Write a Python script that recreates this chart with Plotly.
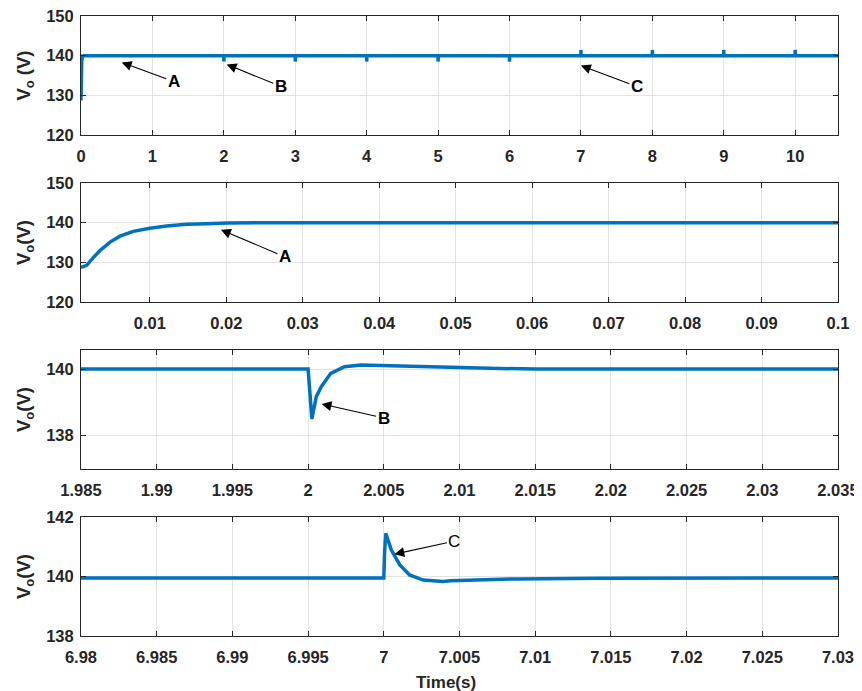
import plotly.graph_objects as go

# ---------------- data ----------------
# Panel 1: overview 0..10.6 s
p1_t = [0.0, 0.0005, 0.001, 0.003, 0.005, 0.01, 0.02, 0.05,
        2.0, 2.0002, 2.001, 2.003, 2.01,
        3.0, 3.0002, 3.001, 3.003, 3.01,
        4.0, 4.0002, 4.001, 4.003, 4.01,
        5.0, 5.0002, 5.001, 5.003, 5.01,
        6.0, 6.0002, 6.001, 6.003, 6.01,
        7.0, 7.0002, 7.001, 7.003, 7.01,
        8.0, 8.0002, 8.001, 8.003, 8.01,
        9.0, 9.0002, 9.001, 9.003, 9.01,
        10.0, 10.0002, 10.001, 10.003, 10.01,
        10.6]
p1_v = [128.7, 128.7, 128.7, 133.0, 135.1, 138.6, 139.9, 140.0,
        140.0, 138.5, 139.4, 140.1, 140.0,
        140.0, 138.5, 139.4, 140.1, 140.0,
        140.0, 138.5, 139.4, 140.1, 140.0,
        140.0, 138.5, 139.4, 140.1, 140.0,
        140.0, 138.5, 139.4, 140.1, 140.0,
        139.95, 141.45, 140.4, 139.85, 139.95,
        139.95, 141.45, 140.4, 139.85, 139.95,
        139.95, 141.45, 140.4, 139.85, 139.95,
        139.95, 141.45, 140.4, 139.85, 139.95,
        139.95]

# Panel 2: start-up 0.001..0.1 s
p2_t = [0.001, 0.00174, 0.00261, 0.00349, 0.0048, 0.0061, 0.00784, 0.010,
        0.0122, 0.0148, 0.0174, 0.0201, 0.025, 0.03, 0.05, 0.1]
p2_v = [128.7, 129.25, 131.2, 133.0, 135.1, 136.6, 137.8, 138.6,
        139.15, 139.57, 139.7, 139.9, 139.97, 140.0, 140.0, 140.0]

# Panel 3: load step B around t = 2 s
p3_t = [1.985, 2.0, 2.0001, 2.00025, 2.00054, 2.00087, 2.0015, 2.0024,
        2.0035, 2.005, 2.0083, 2.012, 2.015, 2.035]
p3_v = [140.0, 140.0, 139.4, 138.5, 139.17, 139.47, 139.87, 140.07,
        140.12, 140.1, 140.06, 140.02, 140.0, 140.0]

# Panel 4: load step C around t = 7 s
p4_t = [6.98, 7.0, 7.00005, 7.00013, 7.0005, 7.00106, 7.0017, 7.0026,
        7.0039, 7.0044, 7.0088, 7.0143, 7.03]
p4_v = [139.95, 139.95, 140.8, 141.45, 140.89, 140.39, 140.05, 139.88,
        139.83, 139.86, 139.92, 139.94, 139.95]

# ticks
p1_xticks = [0, 1, 2, 3, 4, 5, 6, 7, 8, 9, 10]
p1_yticks = [120, 130, 140, 150]
p2_xticks = [0.01, 0.02, 0.03, 0.04, 0.05, 0.06, 0.07, 0.08, 0.09, 0.1]
p2_xlabels = ["0.01", "0.02", "0.03", "0.04", "0.05", "0.06", "0.07", "0.08", "0.09", "0.1"]
p2_yticks = [120, 130, 140, 150]
p3_xticks = [1.985, 1.99, 1.995, 2.0, 2.005, 2.01, 2.015, 2.02, 2.025, 2.03, 2.035]
p3_xlabels = ["1.985", "1.99", "1.995", "2", "2.005", "2.01", "2.015", "2.02", "2.025", "2.03", "2.035"]
p3_yticks = [138, 140]
p4_xticks = [6.98, 6.985, 6.99, 6.995, 7.0, 7.005, 7.01, 7.015, 7.02, 7.025, 7.03]
p4_xlabels = ["6.98", "6.985", "6.99", "6.995", "7", "7.005", "7.01", "7.015", "7.02", "7.025", "7.03"]
p4_yticks = [138, 140, 142]

# ---------------- figure ----------------
LINE = "#0072BD"
TXT = "#262626"
FONT = "Liberation Sans"
OFF = 8  # page body margin offset

fig = go.Figure()
series = [(p1_t, p1_v), (p2_t, p2_v), (p3_t, p3_v), (p4_t, p4_v)]
for i, (t, v) in enumerate(series):
    sfx = "" if i == 0 else str(i + 1)
    fig.add_trace(go.Scatter(x=t, y=v, mode="lines",
                             line=dict(color=LINE, width=3.5),
                             xaxis="x" + sfx, yaxis="y" + sfx,
                             showlegend=False, hoverinfo="skip"))

H = 620.0
def dom(top_px, bot_px):
    return [(636 - bot_px) / H, (636 - top_px) / H]

domains = [dom(16, 135), dom(183, 302), dom(350, 469), dom(517, 636)]
xranges = [[0, 10.6], [0.001, 0.1], [1.985, 2.035], [6.98, 7.03]]
yranges = [[120, 150], [120, 150], [137, 140.57], [138, 142]]
xt = [(p1_xticks, [str(v) for v in p1_xticks]), (p2_xticks, p2_xlabels),
      (p3_xticks, p3_xlabels), (p4_xticks, p4_xlabels)]
yt = [p1_yticks, p2_yticks, p3_yticks, p4_yticks]
ytitles = ["V<sub>o</sub> (V)", "V<sub>o</sub>(V)", "V<sub>o</sub>(V)", "V<sub>o</sub>(V)"]

common = dict(showline=True, linecolor=TXT, linewidth=1, mirror="ticks",
              ticks="inside", ticklen=5, tickcolor=TXT, tickwidth=1,
              showgrid=True, gridcolor="#e3e3e3", gridwidth=1, zeroline=False,
              automargin=False, ticklabeloverflow="allow",
              tickfont=dict(family=FONT, size=16.5, color=TXT, weight="bold"))

layout = {}
for i in range(4):
    sfx = "" if i == 0 else str(i + 1)
    layout["xaxis" + sfx] = dict(common, domain=[0, 1], range=xranges[i],
                                 anchor="y" + sfx, tickvals=xt[i][0], ticktext=xt[i][1],
                                 ticklabelstandoff=6)
    layout["yaxis" + sfx] = dict(common, domain=domains[i], range=yranges[i],
                                 anchor="x" + sfx, tickvals=yt[i],
                                 ticktext=[str(v) for v in yt[i]],
                                 ticklabelstandoff=3,
                                 title=dict(text="<b>" + ytitles[i] + "</b>", standoff=10,
                                            font=dict(family=FONT, size=18.5, color=TXT)))

fig.update_layout(**layout)

def arrow(xref, yref, x, y, ax, ay, text, bold=True):
    return dict(xref=xref, yref=yref, x=x, y=y, ax=ax, ay=ay,
                axref="pixel", ayref="pixel",
                text=("<b>%s</b>" % text) if bold else text,
                showarrow=True, arrowhead=2, arrowsize=1.8, arrowwidth=1.1,
                arrowcolor="black",
                font=dict(family=FONT, size=17, color="black"))

annotations = [
    arrow("x", "y", 0.57, 138.3, 52, 19, "A"),
    arrow("x", "y", 2.04, 137.8, 54, 22, "B"),
    arrow("x", "y", 7.0, 137.5, 56, 21, "C"),
    arrow("x2", "y2", 0.0193, 138.2, 64, 27, "A"),
    arrow("x3", "y3", 2.00089, 138.95, 62, 14, "B"),
    arrow("x4", "y4", 7.0007, 140.75, 60, -13, "C", bold=False),
    dict(xref="paper", yref="paper", x=(446 - 81) / 757.0, y=-(683 - 636) / H,
         text="<b>Time(s)</b>", showarrow=False, xanchor="center", yanchor="middle",
         font=dict(family=FONT, size=17, color=TXT)),
]

fig.update_layout(width=862 - OFF, height=691 - OFF,
                  margin=dict(l=81 - OFF, r=24, t=16 - OFF, b=55),
                  paper_bgcolor="white", plot_bgcolor="white",
                  annotations=annotations, showlegend=False)

fig.write_html("out.html")
